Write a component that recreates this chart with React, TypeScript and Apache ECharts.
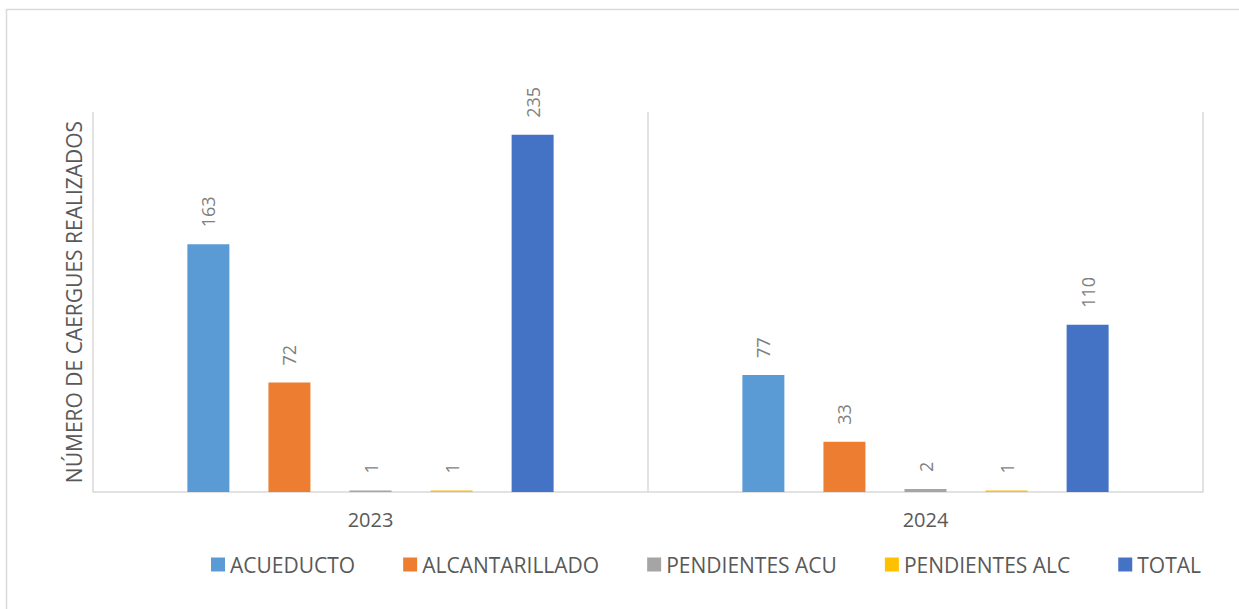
import React, { useEffect, useRef } from "react";
import * as echarts from "echarts";

const categories = ["2023", "2024"];
const seriesNames = ["ACUEDUCTO", "ALCANTARILLADO", "PENDIENTES ACU", "PENDIENTES ALC", "TOTAL"];
const acueducto = [163, 77];
const alcantarillado = [72, 33];
const pendientesAcu = [1, 2];
const pendientesAlc = [1, 1];
const total = [235, 110];
const colors = ["#5B9BD5", "#ED7D31", "#A5A5A5", "#FFC000", "#4472C4"];
const yTitle = "NÚMERO DE CAERGUES REALIZADOS";

export default function App() {
  const ref = useRef<HTMLDivElement>(null);
  useEffect(() => {
    if (!ref.current) return;
    const chart = echarts.init(ref.current, null, { renderer: "svg" });
    const values = [acueducto, alcantarillado, pendientesAcu, pendientesAlc, total];
    const font = "'Open Sans', sans-serif";
    chart.setOption({
      animation: false,
      textStyle: { fontFamily: font },
      graphic: [
        {
          type: "rect",
          shape: { x: 6.5, y: 9.5, width: 1400, height: 800 },
          style: { fill: "none", stroke: "#D9D9D9", lineWidth: 1.5 },
          silent: true,
          z: -10,
        },
      ],
      grid: { left: 93, right: 36, top: 112, bottom: 117 },
      legend: {
        left: 206,
        top: 549,
        icon: "rect",
        itemWidth: 14,
        itemHeight: 14,
        itemGap: 48,
        textStyle: { color: "#595959", fontSize: 21, fontFamily: font },
        data: seriesNames,
      },
      xAxis: {
        type: "category",
        data: categories,
        axisLine: { show: true, lineStyle: { color: "#D9D9D9", width: 1.5 } },
        axisTick: { show: false },
        splitLine: { show: true, lineStyle: { color: "#D9D9D9", width: 1.5 } },
        axisLabel: { color: "#595959", fontSize: 20, margin: 17, fontFamily: font },
      },
      yAxis: {
        type: "value",
        min: 0,
        max: 250,
        axisLine: { show: false },
        axisTick: { show: false },
        axisLabel: { show: false },
        splitLine: { show: false },
        name: yTitle,
        nameLocation: "middle",
        nameGap: 9,
        nameTextStyle: { color: "#595959", fontSize: 21, fontFamily: font },
      },
      series: seriesNames.map((name, i) => ({
        name,
        type: "bar",
        data: values[i],
        barWidth: 42,
        barGap: "93%",
        itemStyle: { color: colors[i] },
        label: {
          show: true,
          position: "top",
          rotate: 90,
          align: "left",
          verticalAlign: "middle",
          distance: 17,
          color: "#7F7F7F",
          fontSize: 18,
          fontFamily: font,
        },
      })),
    });
    return () => chart.dispose();
  }, []);
  return (
    <div
      ref={ref}
      style={{ position: "absolute", left: 0, top: 0, width: 1239, height: 609, background: "#fff" }}
    />
  );
}
